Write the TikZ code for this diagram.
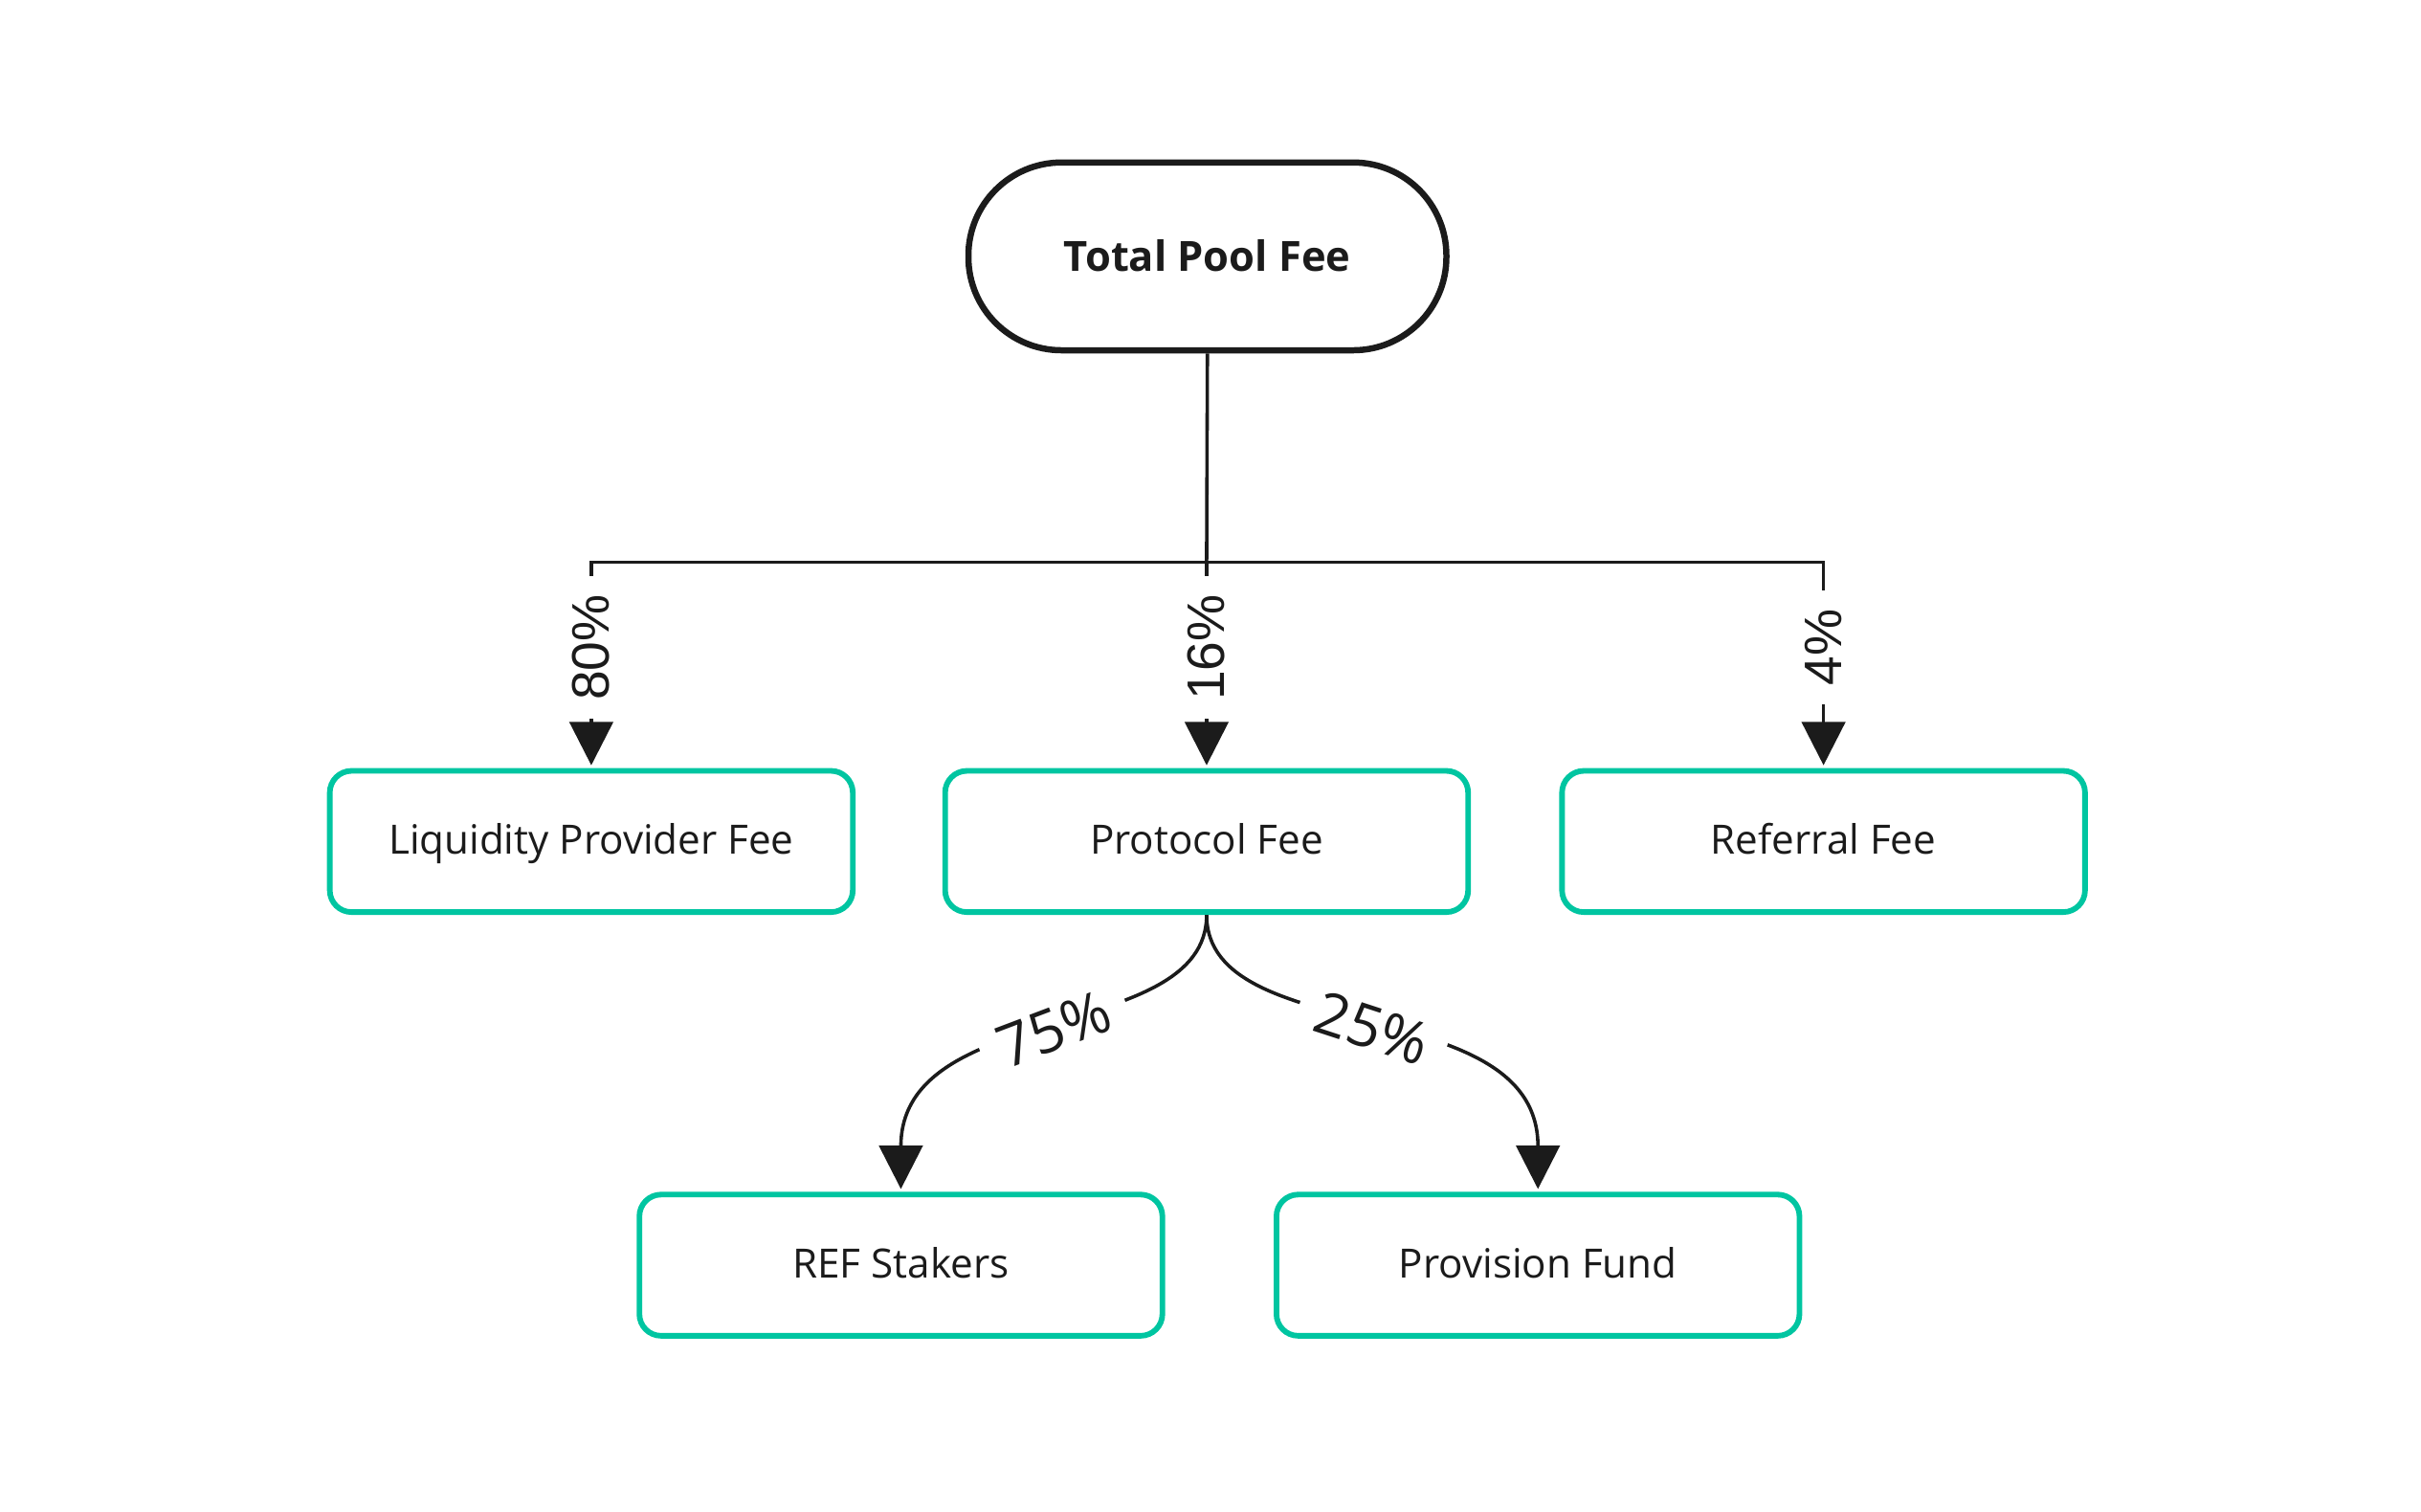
\documentclass[tikz,border=0pt]{standalone}
\usepackage{fontspec}
\setmainfont{Open Sans}
\newfontfamily\labfont{Liberation Sans}
\usetikzlibrary{arrows.meta}
\definecolor{ink}{HTML}{1B1B1B}
\definecolor{refgreen}{HTML}{00C5A1}
\begin{document}
\begin{tikzpicture}[x=0.5pt,y=0.5pt,
  box/.style={draw=refgreen, line width=1.8pt, rounded corners=7pt, minimum width=168.5pt, minimum height=45.5pt, font=\fontsize{13}{15}\selectfont, text=ink, inner sep=0pt, text height=9.6pt, text depth=1.5pt},
  pill/.style={draw=ink, line width=2pt, rounded corners=30pt, minimum width=154pt, minimum height=60.5pt, font=\bfseries\fontsize{13.4}{15}\selectfont, text=ink, inner sep=0pt, text height=9.8pt, text depth=0pt},
  conn/.style={draw=ink, line width=1.1pt},
  arr/.style={conn, shorten >=0.9pt, -{Triangle[length=14pt,width=14pt]}},
  vlab/.style={fill=white, text=ink, font=\labfont\fontsize{17}{19}\selectfont, rotate=90, inner xsep=6pt, inner ysep=2pt},
  clab/.style={fill=white, text=ink, font=\fontsize{19}{21}\selectfont, sloped, inner sep=6pt}]
\useasboundingbox[fill=white] (0,0) rectangle (1560,974.2);
\node[pill] (top) at (778,809) {Total Pool Fee};
\node[box] (lp) at (381,432) {Liquidity Provider Fee};
\node[box] (pf) at (777.5,432) {Protocol Fee};
\node[box] (rf) at (1175,432) {Referral Fee};
\node[box] (rs) at (580.5,159) {REF Stakers};
\node[box] (pv) at (991,159) {Provision Fund};
\coordinate (j) at (777.5,612);
\draw[conn] (top.south) -- (j);
\draw[arr] (j) -| node[vlab,pos=0.7075]{80\%} (lp.north);
\draw[arr] (j) -- node[vlab,pos=0.415]{16\%} (pf.north);
\draw[arr] (j) -| node[vlab,pos=0.7075]{4\%} (rf.north);
\draw[arr] (pf.south) to[out=-90,in=90,out looseness=0.8,in looseness=1.2] node[clab]{75\%} (rs.north);
\draw[arr] (pf.south) to[out=-90,in=90,out looseness=0.8,in looseness=1.2] node[clab]{25\%} (pv.north);
\end{tikzpicture}
\end{document}
